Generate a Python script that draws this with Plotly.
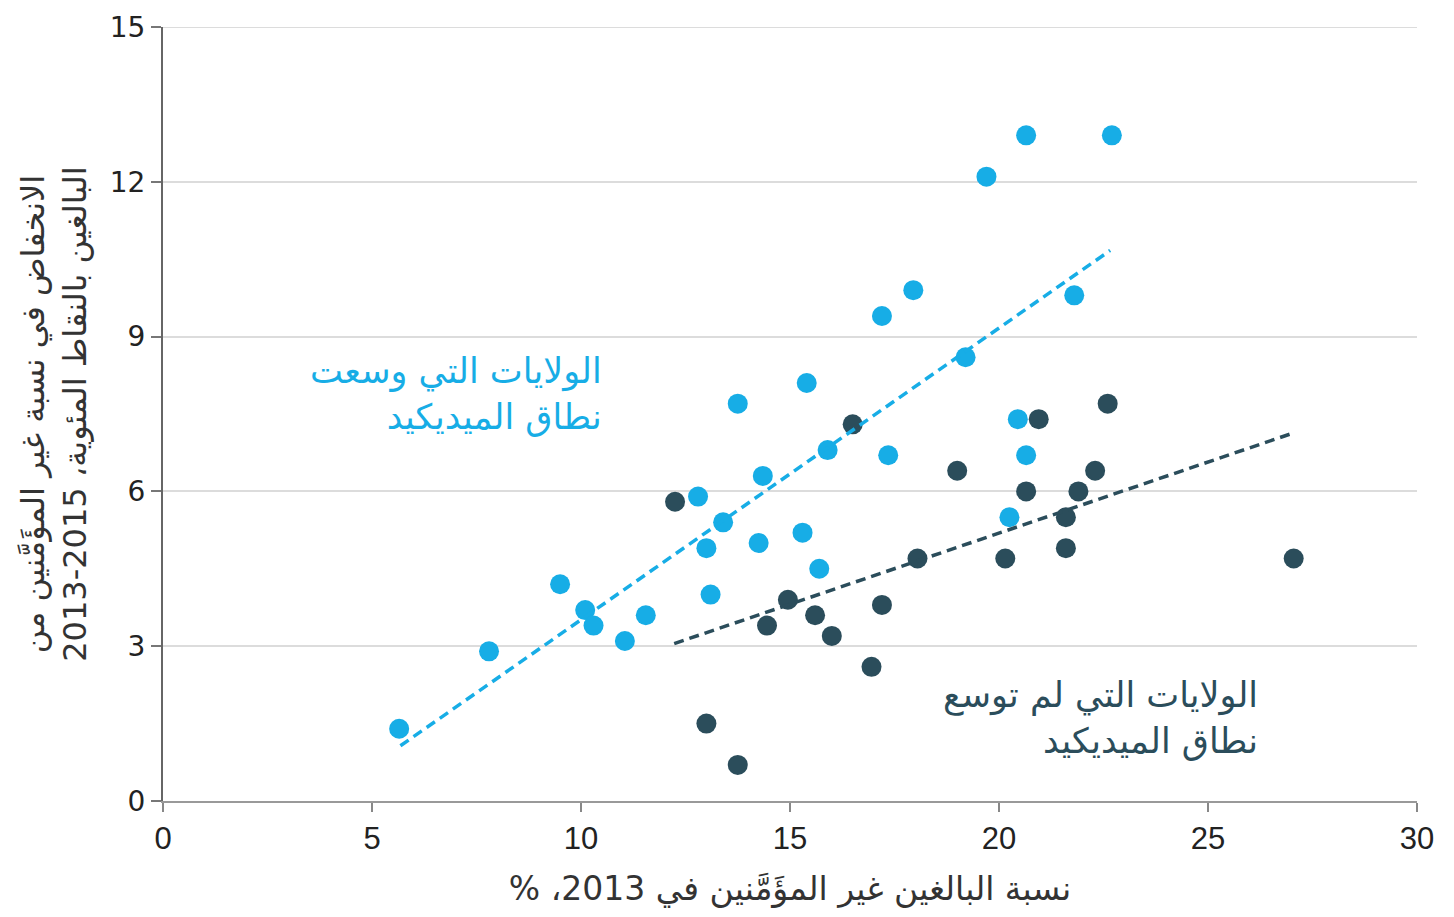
import plotly.graph_objects as go

# Expanded Medicaid states (x: uninsured adults 2013 %, y: drop in points 2013-2015)
exp_x = [5.65, 7.8, 9.5, 10.1, 10.3, 11.05, 11.55, 12.8, 13.0, 13.1, 13.4, 13.75, 14.35, 14.25,
         15.3, 15.4, 15.7, 15.9, 17.2, 17.35, 17.95, 19.2, 19.7, 20.65, 22.7, 21.8, 20.45, 20.65, 20.25]
exp_y = [1.4, 2.9, 4.2, 3.7, 3.4, 3.1, 3.6, 5.9, 4.9, 4.0, 5.4, 7.7, 6.3, 5.0,
         5.2, 8.1, 4.5, 6.8, 9.4, 6.7, 9.9, 8.6, 12.1, 12.9, 12.9, 9.8, 7.4, 6.7, 5.5]

# Non-expansion states
non_x = [12.25, 13.0, 13.75, 14.45, 14.95, 15.6, 16.0, 16.5, 16.95, 17.2, 18.05, 19.0, 20.15,
         20.65, 20.95, 21.6, 21.6, 21.9, 22.3, 22.6, 27.05]
non_y = [5.8, 1.5, 0.7, 3.4, 3.9, 3.6, 3.2, 7.3, 2.6, 3.8, 4.7, 6.4, 4.7,
         6.0, 7.4, 5.5, 4.9, 6.0, 6.4, 7.7, 4.7]

# Trend line end points
exp_trend_x = [5.68, 22.66]
exp_trend_y = [1.07, 10.67]
non_trend_x = [12.23, 27.07]
non_trend_y = [3.05, 7.14]

x_ticks = [0, 5, 10, 15, 20, 25, 30]
y_ticks = [0, 3, 6, 9, 12, 15]

BLUE = "#17ade6"
DARK = "#2b4d5b"
GRID = "#dcdcdc"
AR_FONT = "DejaVu Sans"

RLE, PDF = "\u202b", "\u202c"
LRI, PDI = "\u2066", "\u2069"


def rtl(s):
    return RLE + s + PDF


fig = go.Figure()
fig.add_trace(go.Scatter(x=non_x, y=non_y, mode="markers",
                         marker=dict(color=DARK, size=20, line=dict(width=0))))
fig.add_trace(go.Scatter(x=exp_x, y=exp_y, mode="markers",
                         marker=dict(color=BLUE, size=20, line=dict(width=0))))
fig.add_trace(go.Scatter(x=exp_trend_x, y=exp_trend_y, mode="lines",
                         line=dict(color=BLUE, width=3.5, dash="10px,6px")))
fig.add_trace(go.Scatter(x=non_trend_x, y=non_trend_y, mode="lines",
                         line=dict(color=DARK, width=3.5, dash="10px,6px")))

# top gridline (Plotly drops the grid line that sits on the plot edge)
fig.add_shape(type="line", xref="paper", yref="y", x0=0, x1=1, y0=max(y_ticks), y1=max(y_ticks),
              line=dict(color=GRID, width=2), layer="below")

fig.add_annotation(x=10.55, y=7.88, xref="x", yref="y", xanchor="right", yanchor="middle",
                   align="right", showarrow=False,
                   text=rtl("الولايات التي وسعت") + "<br>" + rtl("نطاق الميديكيد"),
                   font=dict(family=AR_FONT, size=35, color=BLUE))
fig.add_annotation(x=26.25, y=1.6, xref="x", yref="y", xanchor="right", yanchor="middle",
                   align="right", showarrow=False,
                   text=rtl("الولايات التي لم توسع") + "<br>" + rtl("نطاق الميديكيد"),
                   font=dict(family=AR_FONT, size=35, color=DARK))

fig.update_layout(
    width=1454, height=917,
    margin=dict(l=155, r=45, t=19, b=124),
    plot_bgcolor="white", paper_bgcolor="white",
    showlegend=False,
    xaxis=dict(
        range=[0, 30], tickvals=x_ticks, ticks="outside", ticklen=9, tickwidth=2,
        tickcolor="#888", showline=True, linecolor="#999", linewidth=2,
        showgrid=False, zeroline=False, ticklabeloverflow="allow",
        tickfont=dict(family="Liberation Sans Narrow, Liberation Sans", size=31, color="#222"),
        title=dict(text=rtl("نسبة البالغين غير المؤَمَّنين في 2013، %"),
                   font=dict(family=AR_FONT, size=33, color="#333"), standoff=22),
        automargin=False,
    ),
    yaxis=dict(
        range=[0, 15], tickvals=y_ticks, ticks="outside", ticklen=10, tickwidth=2,
        tickcolor="#777", showline=True, linecolor="#666", linewidth=2,
        showgrid=True, gridcolor=GRID, gridwidth=2, zeroline=False,
        ticklabeloverflow="allow",
        tickfont=dict(family="DejaVu Sans", size=28, color="#222"),
        title=dict(text=rtl("الانخفاض في نسبة غير المؤَمَّنين من") + "<br>"
                   + rtl("البالغين بالنقاط المئوية، " + LRI + "2013-2015" + PDI),
                   font=dict(family=AR_FONT, size=32, color="#333"), standoff=14),
        automargin=False,
    ),
)

fig.write_html("out.html")
